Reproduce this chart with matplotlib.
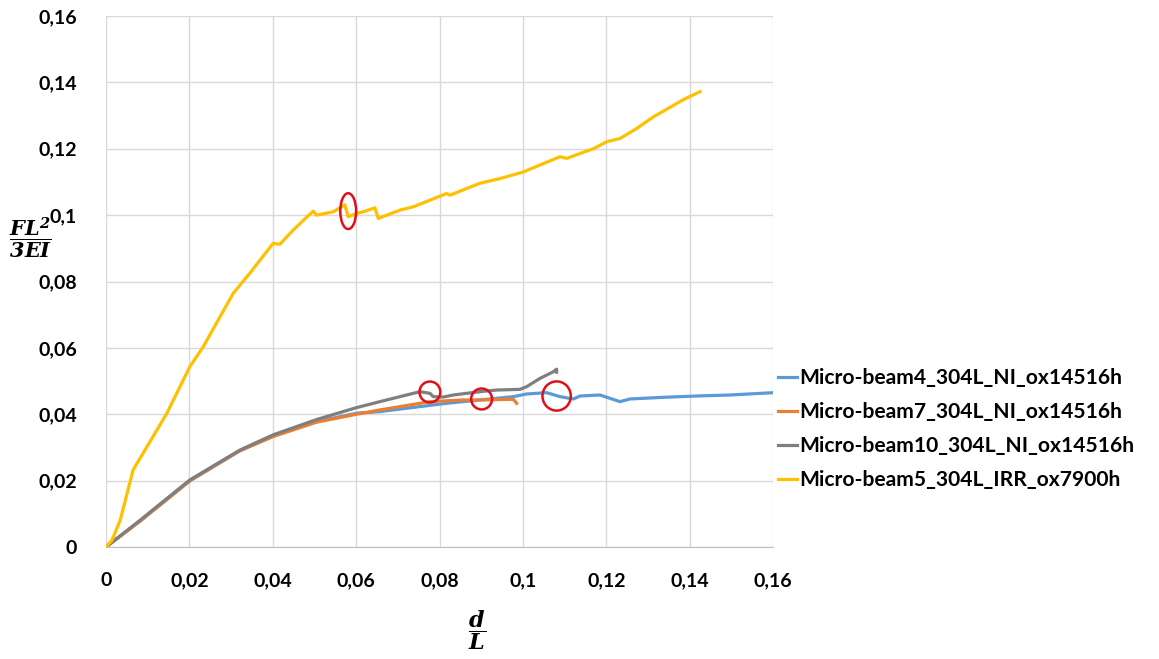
import matplotlib
matplotlib.use("Agg")
import matplotlib.pyplot as plt
from matplotlib.patches import Ellipse

# ── data ──────────────────────────────────────────────────────────────────────
blue_x = [0, 0.0082, 0.0201, 0.0321, 0.0401, 0.0505, 0.0601, 0.0657, 0.0753,
          0.0817, 0.0897, 0.0977, 0.1009, 0.1057, 0.1089, 0.1121, 0.1137,
          0.1185, 0.1209, 0.1233, 0.1257, 0.1337, 0.1417, 0.1497, 0.1601]
blue_y = [0, 0.0079, 0.0200, 0.0290, 0.0334, 0.0378, 0.0403, 0.0408, 0.0423,
          0.0433, 0.0443, 0.0453, 0.0461, 0.0465, 0.0453, 0.0446, 0.0455,
          0.0458, 0.0448, 0.0438, 0.0446, 0.0451, 0.0455, 0.0458, 0.0465]

orange_x = [0, 0.0082, 0.0201, 0.0321, 0.0401, 0.0505, 0.0601, 0.0657, 0.0705,
            0.0777, 0.0857, 0.0897, 0.0977, 0.0985]
orange_y = [0, 0.0078, 0.0199, 0.0290, 0.0333, 0.0376, 0.0400, 0.0413, 0.0423,
            0.0438, 0.0443, 0.0443, 0.0445, 0.0433]

gray_x = [0, 0.0082, 0.0201, 0.0321, 0.0401, 0.0505, 0.0601, 0.0657, 0.0753,
          0.0777, 0.0785, 0.0810, 0.0833, 0.0897, 0.0937, 0.0993, 0.1009,
          0.1041, 0.1073, 0.1081, 0.1081]
gray_y = [0, 0.0081, 0.0202, 0.0292, 0.0338, 0.0384, 0.0420, 0.0438, 0.0468,
          0.0463, 0.0453, 0.0452, 0.0458, 0.0468, 0.0473, 0.0475, 0.0483,
          0.0508, 0.0528, 0.0536, 0.0527]

yellow_x = [0, 0.0014, 0.0034, 0.0065, 0.0146, 0.0201, 0.0233, 0.0305, 0.0345,
            0.0401, 0.0417, 0.0449, 0.0497, 0.0505, 0.0545, 0.0573, 0.0581,
            0.0601, 0.0617, 0.0645, 0.0653, 0.0705, 0.0737, 0.0817, 0.0825,
            0.0897, 0.0945, 0.1001, 0.1089, 0.1105, 0.1169, 0.1201, 0.1233,
            0.1273, 0.1313, 0.1385, 0.1425]
yellow_y = [0, 0.0020, 0.0080, 0.0232, 0.0403, 0.0543, 0.0603, 0.0764, 0.0825,
            0.0915, 0.0912, 0.0955, 0.1012, 0.1000, 0.1010, 0.1031, 0.0995,
            0.1005, 0.1010, 0.1022, 0.0990, 0.1015, 0.1025, 0.1065, 0.1060,
            0.1096, 0.1110, 0.1130, 0.1176, 0.1171, 0.1200, 0.1221, 0.1231,
            0.1261, 0.1296, 0.1348, 0.1372]

labels = ["Micro-beam4_304L_NI_ox14516h", "Micro-beam7_304L_NI_ox14516h",
          "Micro-beam10_304L_NI_ox14516h", "Micro-beam5_304L_IRR_ox7900h"]
colors = ["#5B9BD5", "#ED7D31", "#7F7F7F", "#FFC000"]

# red marks: (x centre, y centre, width, height) in data units
marks = [(0.0581, 0.1012, 0.0038, 0.0108),
         (0.0777, 0.0467, 0.0050, 0.0063),
         (0.0901, 0.0446, 0.0050, 0.0063),
         (0.1081, 0.0455, 0.0068, 0.0088)]

ticks = [0, 0.02, 0.04, 0.06, 0.08, 0.1, 0.12, 0.14, 0.16]
tick_labels = ["0", "0,02", "0,04", "0,06", "0,08", "0,1", "0,12", "0,14", "0,16"]

# ── plot ───────────────────────────────────────────────────────────────────────
plt.rcParams["font.family"] = ["Lato", "DejaVu Sans"]
plt.rcParams["mathtext.fontset"] = "dejavuserif"

fig = plt.figure(figsize=(11.59, 6.59), dpi=100)
ax = fig.add_axes([106 / 1159, 1 - 547 / 659, 667 / 1159, 531 / 659])

for xs, ys, c, lab in zip([blue_x, orange_x, gray_x, yellow_x],
                          [blue_y, orange_y, gray_y, yellow_y], colors, labels):
    ax.plot(xs, ys, color=c, lw=2.3, label=lab, solid_joinstyle="round")

for cx, cy, w, h in marks:
    ax.add_patch(Ellipse((cx, cy), w, h, fill=False, ec="#E0101A", lw=1.8, zorder=5))

ax.set_xlim(0, 0.16)
ax.set_ylim(0, 0.16)
ax.set_xticks(ticks)
ax.set_yticks(ticks)
ax.set_xticklabels(tick_labels, fontsize=14, fontweight="bold")
ax.set_yticklabels(tick_labels, fontsize=14, fontweight="bold")
ax.tick_params(length=0)
ax.tick_params(axis="x", pad=18)
ax.tick_params(axis="y", pad=21)
ax.grid(True, color="#D9D9D9", lw=1)
ax.set_axisbelow(True)
for s in ["top", "right", "left"]:
    ax.spines[s].set_visible(False)
ax.spines["bottom"].set_color("#BFBFBF")

fig.text(31 / 1159, 1 - 238 / 659, r"$\mathbfit{\dfrac{FL^2}{3EI}}$",
         fontsize=15, ha="center", va="center")
fig.text(477 / 1159, 1 - 630 / 659, r"$\mathbfit{\dfrac{d}{L}}$",
         fontsize=16, ha="center", va="center")

ax.legend(loc="center left", bbox_to_anchor=(0.995, 0.222), frameon=False,
          handlelength=0.9, handletextpad=0.1, labelspacing=0.66,
          prop={"size": 15.1, "weight": "bold"}, borderaxespad=0.0)

fig.savefig("out.png", dpi=100)
